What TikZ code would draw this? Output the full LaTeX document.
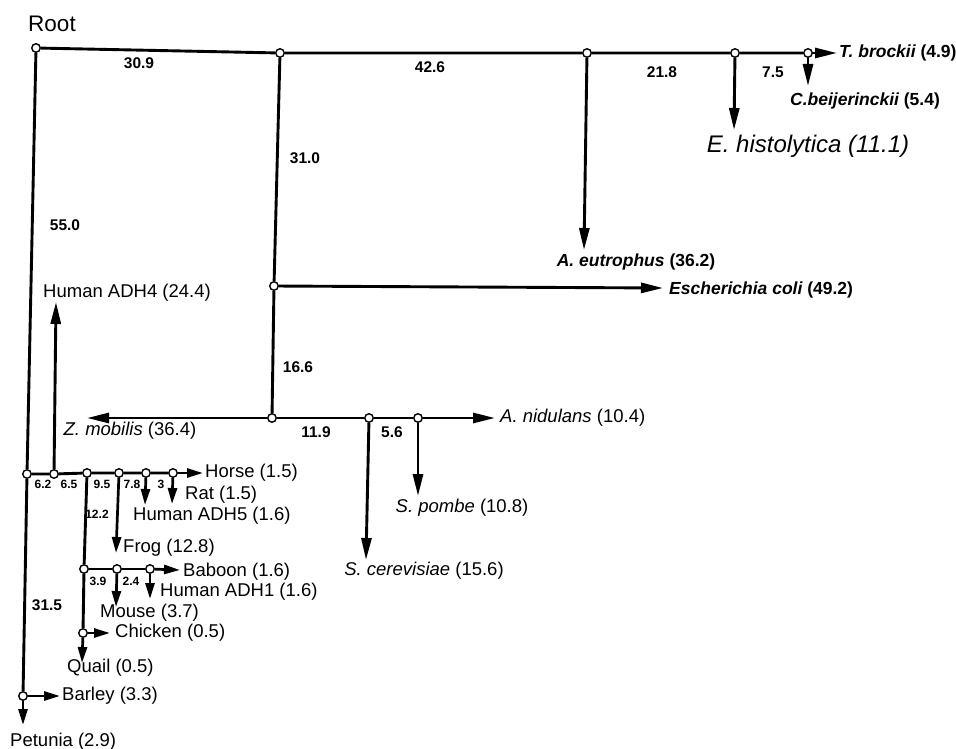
\documentclass[tikz,border=0pt]{standalone}
\usepackage{fontspec}
\setmainfont{Liberation Sans}
\usetikzlibrary{arrows.meta}

\begin{document}
\begin{tikzpicture}[x=1pt,y=-1pt,
    nd/.style={circle,draw,fill=white,line width=1.4pt,inner sep=0pt,minimum size=8.5pt},
    br/.style={line width=2.9pt},
    arr/.style={line width=2.9pt,-{Triangle[length=22pt,width=10pt]}},
    sarr/.style={line width=2.7pt,-{Triangle[length=16pt,width=9pt]}},
    len/.style={font=\fontsize{15.5}{18}\selectfont\bfseries},
    slen/.style={font=\fontsize{12}{14}\selectfont\bfseries},
    sp/.style={font=\fontsize{18.5}{21}\selectfont,inner sep=0pt},
    bsp/.style={font=\fontsize{17.5}{20}\selectfont\bfseries,inner sep=0pt}
    ]
\useasboundingbox (0,0) rectangle (956,749);
% Arbre des alcool-deshydrogenases (longueurs de branches)
\node[font=\fontsize{22.5}{26}\selectfont] (rootlbl) at (52,24) {Root};

% noeuds internes
\node[nd] (root) at (36,48) {};
\node[nd] (a) at (280,53) {};
\node[nd] (b) at (587,53) {};
\node[nd] (c) at (735,53) {};
\node[nd] (d) at (808,53) {};
\node[nd] (e) at (274,286) {};
\node[nd] (f) at (272,418) {};
\node[nd] (g) at (369,418) {};
\node[nd] (h) at (418,418) {};
\node[nd] (l) at (27,474) {};
\node[nd] (m) at (54,474) {};
\node[nd] (n) at (87,473) {};
\node[nd] (p) at (119,473) {};
\node[nd] (q) at (146,473) {};
\node[nd] (r) at (173,473) {};
\node[nd] (s) at (84,569) {};
\node[nd] (t) at (117,569) {};
\node[nd] (u) at (150,569) {};
\node[nd] (v) at (83,633) {};
\node[nd] (w) at (23,696) {};

% extremites des feuilles
\coordinate (tbr) at (837,53);
\coordinate (tcb) at (808,86);
\coordinate (teh) at (734,130);
\coordinate (tae) at (584,250);
\coordinate (tec) at (663,288);
\coordinate (tzm) at (87,418);
\coordinate (tan) at (495,418);
\coordinate (tsc) at (366,560);
\coordinate (tsp) at (418,496);
\coordinate (tad4) at (56,302);
\coordinate (tho) at (203,473);
\coordinate (tra) at (172,504);
\coordinate (tad5) at (145,505);
\coordinate (tfr) at (116,553);
\coordinate (tba) at (180,570);
\coordinate (tmo) at (116,607);
\coordinate (tad1) at (150,599);
\coordinate (tch) at (110,633);
\coordinate (tqu) at (82,663);
\coordinate (tbl) at (60,696);
\coordinate (tpe) at (23,725);

% branches
\draw[br] (root) -- (a) -- (b) -- (c) -- (d);
\draw[br] (a) -- (e) -- (f);
\draw[br] (f) -- (g) -- (h);
\draw[br] (root) -- (l) -- (w);
\draw[br] (l) -- (m) -- (n) -- (p) -- (q) -- (r);
\draw[br] (n) -- (s) -- (v);
\draw[br] (s) -- (t) -- (u);

\draw[arr] (d) -- (tbr);
\draw[arr] (d) -- (tcb);
\draw[arr] (c) -- (teh);
\draw[arr] (b) -- (tae);
\draw[arr] (e) -- (tec);
\draw[arr] (f) -- (tzm);
\draw[arr] (h) -- (tan);
\draw[arr] (g) -- (tsc);
\draw[arr] (h) -- (tsp);
\draw[arr] (m) -- (tad4);
\draw[sarr] (r) -- (tho);
\draw[sarr] (r) -- (tra);
\draw[sarr] (q) -- (tad5);
\draw[sarr] (p) -- (tfr);
\draw[sarr] (u) -- (tba);
\draw[sarr] (t) -- (tmo);
\draw[sarr] (u) -- (tad1);
\draw[sarr] (v) -- (tch);
\draw[sarr] (v) -- (tqu);
\draw[sarr] (w) -- (tbl);
\draw[sarr] (w) -- (tpe);

% longueurs
\node[len] (l309) at (139,63) {30.9};
\node[len] (l426) at (430,67) {42.6};
\node[len] (l218) at (662,72) {21.8};
\node[len] (l75) at (773,72) {7.5};
\node[len] (l310) at (305,158) {31.0};
\node[len] (l166) at (298,367) {16.6};
\node[len] (l550) at (65,225) {55.0};
\node[len] (l119) at (316,432) {11.9};
\node[len] (l56) at (392,432) {5.6};
\node[len] (l315) at (47,605) {31.5};
\node[slen] (l62) at (43,484) {6.2};
\node[slen] (l65) at (69,484) {6.5};
\node[slen] (l95) at (102,484) {9.5};
\node[slen] (l78) at (132,484) {7.8};
\node[slen] (l3) at (161,484) {3};
\node[slen] (l122) at (97,514) {12.2};
\node[slen] (l39) at (98,581) {3.9};
\node[slen] (l24) at (131,581) {2.4};

% feuilles
\node[bsp,anchor=west,font=\fontsize{17.5}{20}\selectfont\bfseries] (tbrockii) at (839,53) {\itshape T. brockii \upshape(4.9)};
\node[bsp] (cbeij) at (865,101) {\itshape C.beijerinckii \upshape(5.4)};
\node[sp,font=\fontsize{24}{28}\selectfont\itshape] (ehist) at (808,146) {E. histolytica (11.1)};
\node[bsp] (aeut) at (636,262) {\itshape A. eutrophus \upshape(36.2)};
\node[bsp,anchor=west] (ecoli) at (669,290) {\itshape Escherichia coli \upshape(49.2)};
\node[sp] (zmob) at (130,431) {\textit{Z. mobilis} (36.4)};
\node[sp,anchor=west] (anid) at (500,418) {\textit{A. nidulans} (10.4)};
\node[sp] (scer) at (424,571) {\textit{S. cerevisiae} (15.6)};
\node[sp] (spom) at (462,508) {\textit{S. pombe} (10.8)};
\node[sp] (adh4) at (127,293) {Human ADH4 (24.4)};
\node[sp,anchor=west] (horse) at (205,473) {Horse (1.5)};
\node[sp,anchor=west] (rat) at (185,495) {Rat (1.5)};
\node[sp,anchor=west] (adh5) at (133,516) {Human ADH5 (1.6)};
\node[sp,anchor=west] (frog) at (123,548) {Frog (12.8)};
\node[sp,anchor=west] (baboon) at (183,572) {Baboon (1.6)};
\node[sp,anchor=west] (adh1) at (160,592) {Human ADH1 (1.6)};
\node[sp,anchor=west] (mouse) at (100,613) {Mouse (3.7)};
\node[sp,anchor=west] (chicken) at (115,633) {Chicken (0.5)};
\node[sp,anchor=west] (quail) at (67,668) {Quail (0.5)};
\node[sp,anchor=west] (barley) at (62,696) {Barley (3.3)};
\node[sp,anchor=west] (petunia) at (10,742) {Petunia (2.9)};
\end{tikzpicture}
\end{document}
